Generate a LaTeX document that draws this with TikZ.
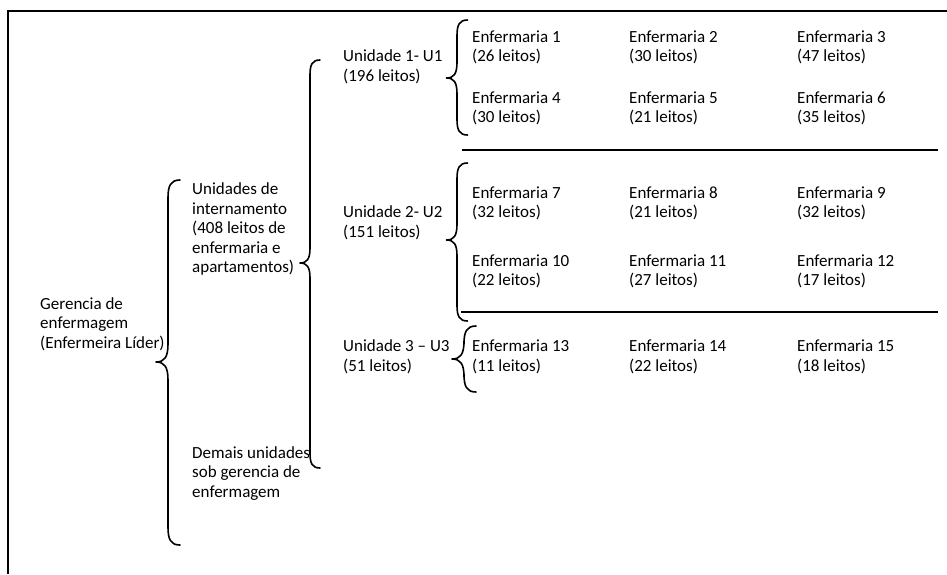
\documentclass[tikz,border=0pt]{standalone}
\usepackage{fontspec}
\setmainfont{Carlito}
\newcommand\mybrace[5]{% spine x, top y, tip y, bottom y, width
  \draw[brc] (#1+#5,#2) .. controls (#1+0.2*#5,#2) and (#1,#2+0.5*#5) .. (#1,#2+1.5*#5)
    -- (#1,#3-1.5*#5) .. controls (#1,#3-0.4*#5) and (#1-0.3*#5,#3) .. (#1-#5,#3)
    .. controls (#1-0.3*#5,#3) and (#1,#3+0.4*#5) .. (#1,#3+1.5*#5)
    -- (#1,#4-1.5*#5) .. controls (#1,#4-0.5*#5) and (#1+0.2*#5,#4) .. (#1+#5,#4);}
\begin{document}
\begin{tikzpicture}[x=1pt,y=-1pt,
  txt/.style={anchor=base west,inner sep=0pt,align=left,font=\fontsize{17}{19.4}\selectfont},
  brc/.style={line width=1.6pt,line cap=round,line join=round},
  sep/.style={line width=1.2pt},
  frame/.style={line width=1.6pt}]
\useasboundingbox (0,0) rectangle (947,574);
\draw[frame] (8,574) -- (8,11) -- (947,11);
% texts (anchor = baseline of last line)
\node[txt] (ger) at (40,348) {Gerencia de\\enfermagem\\(Enfermeira Líder)};
\node[txt] (int) at (192,272.5) {Unidades de\\internamento\\(408 leitos de\\enfermaria e\\apartamentos)};
\node[txt] (dem) at (192,497) {Demais unidades\\sob gerencia de\\enfermagem};
\node[txt] (u1) at (343,81) {Unidade 1- U1\\(196 leitos)};
\node[txt] (u2) at (343,237) {Unidade 2- U2\\(151 leitos)};
\node[txt] (u3) at (343,371) {Unidade 3 – U3\\(51 leitos)};
\node[txt] (e1) at (472,61.5) {Enfermaria 1\\(26 leitos)};
\node[txt] (e2) at (629,61.5) {Enfermaria 2\\(30 leitos)};
\node[txt] (e3) at (797,61.5) {Enfermaria 3\\(47 leitos)};
\node[txt] (e4) at (472,122.5) {Enfermaria 4\\(30 leitos)};
\node[txt] (e5) at (629,122.5) {Enfermaria 5\\(21 leitos)};
\node[txt] (e6) at (797,122.5) {Enfermaria 6\\(35 leitos)};
\node[txt] (e7) at (472,217.5) {Enfermaria 7\\(32 leitos)};
\node[txt] (e8) at (629,217.5) {Enfermaria 8\\(21 leitos)};
\node[txt] (e9) at (797,217.5) {Enfermaria 9\\(32 leitos)};
\node[txt] (e10) at (472,285.5) {Enfermaria 10\\(22 leitos)};
\node[txt] (e11) at (629,285.5) {Enfermaria 11\\(27 leitos)};
\node[txt] (e12) at (797,285.5) {Enfermaria 12\\(17 leitos)};
\node[txt] (e13) at (472,371) {Enfermaria 13\\(11 leitos)};
\node[txt] (e14) at (629,371) {Enfermaria 14\\(22 leitos)};
\node[txt] (e15) at (797,371) {Enfermaria 15\\(18 leitos)};
% braces
\mybrace{168}{180}{362}{545}{12}
\mybrace{310}{60}{263}{468}{10}
\mybrace{457}{20}{78}{135}{10.5}
\mybrace{457}{163}{240}{321}{10.5}
\mybrace{464}{326}{359}{392}{12}
% separators
\draw[sep] (462,150) -- (938,150);
\draw[sep] (461,312) -- (938,312);
\end{tikzpicture}
\end{document}
